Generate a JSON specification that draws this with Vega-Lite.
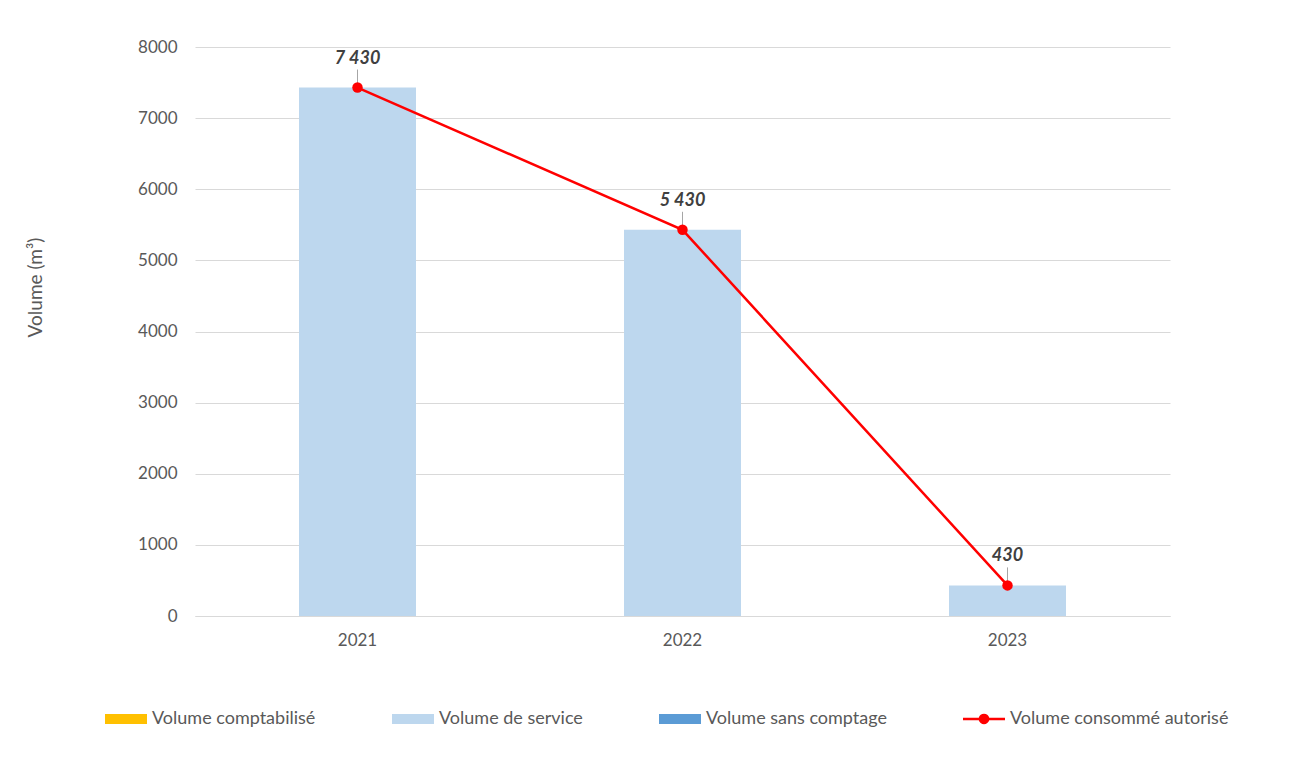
{
  "$schema": "https://vega.github.io/schema/vega-lite/v6.json",
  "width": 975,
  "height": 569,
  "autosize": {"type": "none"},
  "padding": {"left": 195, "top": 47, "right": 126, "bottom": 148},
  "background": "white",
  "config": {
    "font": "Lato",
    "view": {"stroke": null},
    "locale": {"number": {"decimal": ",", "thousands": " ", "grouping": [3], "currency": ["", " €"]}}
  },
  "datasets": {
    "bars": [
      {"year": "2021", "series": "Volume comptabilisé", "value": 0},
      {"year": "2021", "series": "Volume de service", "value": 7430},
      {"year": "2021", "series": "Volume sans comptage", "value": 0},
      {"year": "2022", "series": "Volume comptabilisé", "value": 0},
      {"year": "2022", "series": "Volume de service", "value": 5430},
      {"year": "2022", "series": "Volume sans comptage", "value": 0},
      {"year": "2023", "series": "Volume comptabilisé", "value": 0},
      {"year": "2023", "series": "Volume de service", "value": 430},
      {"year": "2023", "series": "Volume sans comptage", "value": 0}
    ],
    "total": [
      {"year": "2021", "value": 7430},
      {"year": "2022", "value": 5430},
      {"year": "2023", "value": 430}
    ]
  },
  "encoding": {
    "x": {
      "field": "year",
      "type": "nominal",
      "scale": {"paddingInner": 0.64, "paddingOuter": 0.32},
      "axis": {
        "title": null,
        "labelAngle": 0,
        "labelFontSize": 17,
        "labelColor": "#595959",
        "labelPadding": 16,
        "ticks": false,
        "domain": true,
        "domainColor": "#D9D9D9"
      }
    }
  },
  "layer": [
    {
      "data": {"name": "bars"},
      "mark": {"type": "bar"},
      "encoding": {
        "y": {
          "field": "value",
          "type": "quantitative",
          "stack": "zero",
          "scale": {"domain": [0, 8000], "nice": false},
          "axis": {
            "title": "Volume (m³)",
            "values": [0, 1000, 2000, 3000, 4000, 5000, 6000, 7000, 8000],
            "format": "d",
            "labelFontSize": 17,
            "labelColor": "#595959",
            "labelPadding": 18,
            "ticks": false,
            "domain": false,
            "gridColor": "#D9D9D9",
            "titleFontSize": 19,
            "titleFontWeight": "normal",
            "titleColor": "#595959",
            "titleX": -150,
            "titleY": 240
          }
        },
        "color": {
          "field": "series",
          "type": "nominal",
          "scale": {
            "domain": ["Volume comptabilisé", "Volume de service", "Volume sans comptage", "Volume consommé autorisé"],
            "range": ["#FFC000", "#BDD7EE", "#5B9BD5", "#FF0000"]
          },
          "legend": {
            "title": null,
            "orient": "none",
            "legendX": -90,
            "legendY": 651,
            "direction": "horizontal",
            "columns": 4,
            "columnPadding": 76,
            "symbolSize": 1764,
            "symbolStrokeWidth": 0,
            "labelOffset": 5,
            "labelFontSize": 18,
            "labelColor": "#595959",
            "labelLimit": 400,
            "encode": {
              "symbols": {
                "update": {
                  "shape": {"signal": "datum.value === 'Volume consommé autorisé' ? 'M-1,-0.06H-0.25A0.26,0.26 0 0 1 0.25,-0.06H1V0.06H0.25A0.26,0.26 0 0 1 -0.25,0.06H-1Z' : 'M-1,-0.24H1V0.24H-1Z'"},
                  "strokeWidth": {"value": 0}
                }
              }
            }
          }
        },
        "order": {"field": "series"}
      }
    },
    {
      "data": {"name": "total"},
      "mark": {"type": "line", "color": "#FF0000", "strokeWidth": 2.5},
      "encoding": {
        "y": {"field": "value", "type": "quantitative"}
      }
    },
    {
      "data": {"name": "total"},
      "mark": {"type": "point", "shape": "M0,-0.22V-1", "size": 1296, "filled": false, "stroke": "#A6A6A6", "strokeWidth": 1, "opacity": 1},
      "encoding": {
        "y": {"field": "value", "type": "quantitative"}
      }
    },
    {
      "data": {"name": "total"},
      "mark": {"type": "point", "shape": "circle", "size": 110, "filled": true, "color": "#FF0000", "opacity": 1},
      "encoding": {
        "y": {"field": "value", "type": "quantitative"}
      }
    },
    {
      "data": {"name": "total"},
      "mark": {"type": "text", "dy": -24, "baseline": "alphabetic", "fontSize": 18, "fontWeight": "bold", "fontStyle": "italic", "color": "#404040"},
      "encoding": {
        "y": {"field": "value", "type": "quantitative"},
        "text": {"field": "value", "type": "quantitative", "format": ",d"}
      }
    }
  ]
}
